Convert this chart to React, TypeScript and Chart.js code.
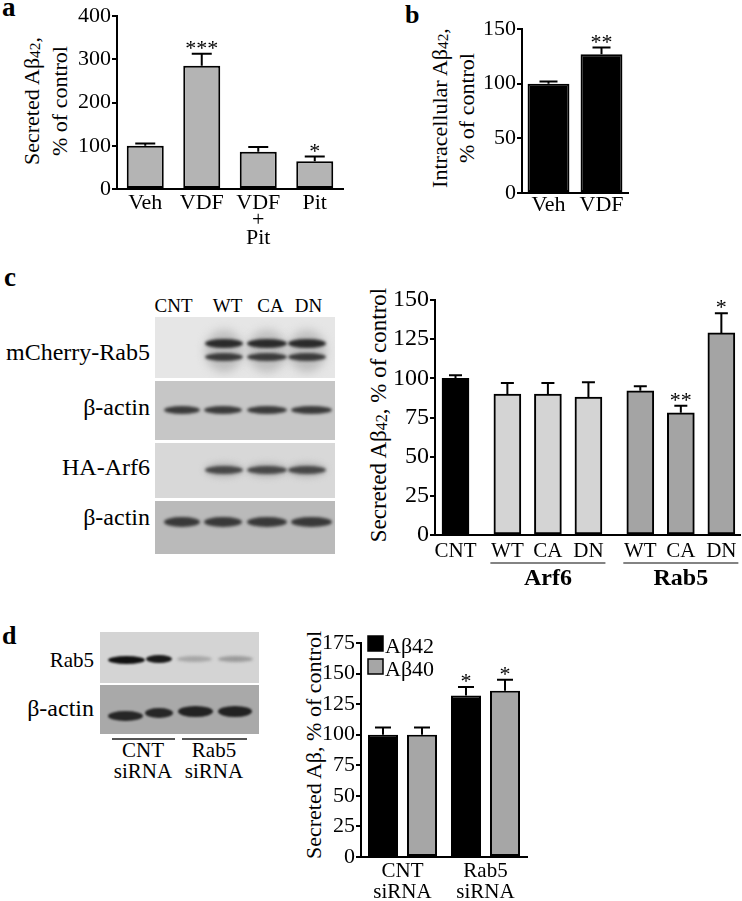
import React, { useEffect, useRef } from "react";
import { Chart, registerables } from "chart.js";
Chart.register(...registerables);

const FONT = "'Liberation Serif', 'Times New Roman', Times, serif";

// ---------- Panel a ----------
const A_LABELS: (string | string[])[] = ["Veh", "VDF", ["VDF", "+", "Pit"], "Pit"];
const A_VALUES = [100, 285, 86, 64];
const A_SEM = [5, 28, 11, 11];
const A_STARS = ["", "***", "", "*"];

// ---------- Panel b ----------
const B_LABELS = ["Veh", "VDF"];
const B_VALUES = [100, 127];
const B_SEM = [2, 6];
const B_STARS = ["", "**"];

// ---------- Panel c ----------
const C_LABELS = ["CNT", "WT", "CA", "DN", "WT", "CA", "DN"];
const C_GROUPS = ["", "Arf6", "Arf6", "Arf6", "Rab5", "Rab5", "Rab5"];
const C_VALUES = [100, 90, 90, 88, 92, 78, 129];
const C_SEM = [2, 7, 7, 9.5, 3, 4.5, 12.5];
const C_STARS = ["", "", "", "", "", "**", "*"];

// ---------- Panel d ----------
const D_LABELS = [["CNT", "siRNA"], ["Rab5", "siRNA"]];
const D_SERIES = ["Aβ42", "Aβ40"];
const D_AB42 = [100, 132];
const D_AB42_SEM = [6, 7];
const D_AB40 = [100, 136];
const D_AB40_SEM = [6, 9];
const D_STARS_42 = ["", "*"];
const D_STARS_40 = ["", "*"];

// layout helpers for panel c (group gaps)
const C_GAP = 0.28;
const C_GROUP_ORDER = Array.from(new Set(C_GROUPS));
const C_POS = C_LABELS.map((_, i) => i + C_GAP * C_GROUP_ORDER.indexOf(C_GROUPS[i]));

const errStarsPlugin = {
  id: "errStars",
  afterDatasetsDraw(chart: any, _args: any, opts: any) {
    const ctx = chart.ctx;
    const yScale = chart.scales.y;
    chart.data.datasets.forEach((ds: any, di: number) => {
      const meta = chart.getDatasetMeta(di);
      const sem: number[] = ds.sem || [];
      const stars: string[] = ds.stars || [];
      meta.data.forEach((el: any, i: number) => {
        const raw = ds.data[i];
        const v = typeof raw === "number" ? raw : raw.y;
        const base = yScale.getPixelForValue(v);
        const top = yScale.getPixelForValue(v + (sem[i] || 0));
        const x = el.x;
        const cap = opts.cap || 14;
        ctx.save();
        ctx.strokeStyle = "#000";
        ctx.lineWidth = 2;
        ctx.beginPath();
        ctx.moveTo(x, base);
        ctx.lineTo(x, top);
        ctx.moveTo(x - cap / 2, top);
        ctx.lineTo(x + cap / 2, top);
        ctx.stroke();
        if (stars[i]) {
          ctx.fillStyle = "#000";
          ctx.font = `${opts.starSize || 22}px ${FONT}`;
          ctx.textAlign = "center";
          ctx.textBaseline = "alphabetic";
          ctx.fillText(stars[i], x, top + (opts.starOffset || 0));
        }
        ctx.restore();
      });
    });
  },
};

const groupPlugin = {
  id: "groupLabels",
  afterDraw(chart: any, _args: any, opts: any) {
    const groups: string[] = opts.groups || [];
    const { ctx, chartArea } = chart;
    const meta = chart.getDatasetMeta(0);
    const names = Array.from(new Set(groups)).filter((g) => g);
    names.forEach((name) => {
      const idx = groups.map((g, i) => (g === name ? i : -1)).filter((i) => i >= 0);
      const x1 = meta.data[idx[0]].x - opts.ext;
      const x2 = meta.data[idx[idx.length - 1]].x + opts.ext;
      const ly = chartArea.bottom + opts.lineDy;
      ctx.save();
      ctx.strokeStyle = "#5a5a5a";
      ctx.lineWidth = 1.5;
      ctx.beginPath();
      ctx.moveTo(x1, ly);
      ctx.lineTo(x2, ly);
      ctx.stroke();
      ctx.fillStyle = "#000";
      ctx.font = `bold ${opts.size}px ${FONT}`;
      ctx.textAlign = "center";
      ctx.textBaseline = "alphabetic";
      ctx.fillText(name, (x1 + x2) / 2, chartArea.bottom + opts.textDy);
      ctx.restore();
    });
  },
};

const boxLegendPlugin = {
  id: "boxLegend",
  afterDraw(chart: any, _args: any, opts: any) {
    const { ctx, chartArea } = chart;
    chart.data.datasets.forEach((ds: any, i: number) => {
      const x = chartArea.left + opts.dx;
      const y = chartArea.top + opts.dy + i * opts.row;
      ctx.save();
      ctx.fillStyle = ds.backgroundColor;
      ctx.fillRect(x, y, opts.box, opts.box);
      ctx.strokeStyle = "#000";
      ctx.lineWidth = 1.5;
      ctx.strokeRect(x, y, opts.box, opts.box);
      ctx.fillStyle = "#000";
      ctx.font = `${opts.size}px ${FONT}`;
      ctx.textAlign = "left";
      ctx.textBaseline = "alphabetic";
      ctx.fillText(ds.label, x + opts.box + 2, y + opts.box + 2);
      ctx.restore();
    });
  },
};

function yAxis(max: number, step: number, width: number, size: number) {
  return {
    min: 0,
    max,
    ticks: { stepSize: step, color: "#000", font: { family: FONT, size }, padding: 1 },
    grid: { display: true, drawOnChartArea: false, drawTicks: true, tickLength: 5, color: "#000", lineWidth: 2 },
    border: { display: true, color: "#000", width: 2 },
    afterFit: (s: any) => {
      s.width = width;
    },
  };
}

function xAxisBase(height: number, size: number, lineHeight: number, padding: number) {
  return {
    ticks: { color: "#000", font: { family: FONT, size, lineHeight }, padding, maxRotation: 0, minRotation: 0, autoSkip: false },
    grid: { display: true, drawOnChartArea: false, drawTicks: false, color: "#000" },
    border: { display: true, color: "#000", width: 2 },
    afterFit: (s: any) => {
      s.height = height;
    },
  };
}

const baseOptions = {
  responsive: false,
  maintainAspectRatio: false,
  animation: false as const,
  events: [] as any[],
};

function makeA(): any {
  return {
    type: "bar",
    data: {
      labels: A_LABELS,
      datasets: [
        {
          data: A_VALUES,
          sem: A_SEM,
          stars: A_STARS,
          backgroundColor: "#b4b4b4",
          borderColor: "#000",
          borderWidth: 2,
          borderSkipped: false,
          categoryPercentage: 1,
          barPercentage: 0.655,
        },
      ],
    },
    options: {
      ...baseOptions,
      layout: { padding: { left: 0, right: 7, top: 16, bottom: 0 } },
      plugins: { legend: { display: false }, tooltip: { enabled: false }, errStars: { cap: 20, starSize: 22, starOffset: 1 } },
      scales: { x: xAxisBase(71, 22, 0.8, 5), y: yAxis(400, 100, 49, 22) },
    },
    plugins: [errStarsPlugin],
  };
}

function makeB(): any {
  return {
    type: "bar",
    data: {
      labels: B_LABELS,
      datasets: [
        {
          data: B_VALUES,
          sem: B_SEM,
          stars: B_STARS,
          backgroundColor: "#000",
          borderColor: "#000",
          borderWidth: 2,
          borderSkipped: false,
          categoryPercentage: 1,
          barPercentage: 0.79,
        },
      ],
    },
    options: {
      ...baseOptions,
      layout: { padding: { left: 0, right: 10, top: 29, bottom: 0 } },
      plugins: { legend: { display: false }, tooltip: { enabled: false }, errStars: { cap: 18, starSize: 22, starOffset: 1 } },
      scales: { x: xAxisBase(47, 22, 1, 1), y: yAxis(150, 50, 44, 22) },
    },
    plugins: [errStarsPlugin],
  };
}

function makeC(): any {
  const colors = C_GROUPS.map((g) => (g === "" ? "#000" : g === "Arf6" ? "#d4d4d4" : "#a4a4a4"));
  return {
    type: "bar",
    data: {
      datasets: [
        {
          data: C_VALUES.map((v, i) => ({ x: C_POS[i], y: v })),
          sem: C_SEM,
          stars: C_STARS,
          backgroundColor: colors,
          borderColor: "#000",
          borderWidth: 2,
          borderSkipped: false,
          barThickness: 27,
        },
      ],
    },
    options: {
      ...baseOptions,
      layout: { padding: { left: 0, right: 2, top: 20, bottom: 0 } },
      plugins: {
        legend: { display: false },
        tooltip: { enabled: false },
        errStars: { cap: 13, starSize: 22, starOffset: 1 },
        groupLabels: { groups: C_GROUPS, ext: 17, lineDy: 28, textDy: 50, size: 24 },
      },
      scales: {
        x: {
          ...xAxisBase(55, 21, 1.2, 4),
          type: "linear",
          min: -0.506,
          max: 7.02,
          offset: false,
          afterBuildTicks: (scale: any) => {
            scale.ticks = C_POS.map((v) => ({ value: v }));
          },
          ticks: {
            color: "#000",
            font: { family: FONT, size: 21, lineHeight: 1.2 },
            padding: 4,
            maxRotation: 0,
            minRotation: 0,
            autoSkip: false,
            callback: (_v: any, i: number) => C_LABELS[i],
          },
        },
        y: yAxis(150, 25, 47, 24),
      },
    },
    plugins: [errStarsPlugin, groupPlugin],
  };
}

function makeD(): any {
  return {
    type: "bar",
    data: {
      labels: D_LABELS,
      datasets: [
        {
          label: D_SERIES[0],
          data: D_AB42,
          sem: D_AB42_SEM,
          stars: D_STARS_42,
          backgroundColor: "#000",
          borderColor: "#000",
          borderWidth: 2,
          borderSkipped: false,
          categoryPercentage: 0.94,
          barPercentage: 0.77,
        },
        {
          label: D_SERIES[1],
          data: D_AB40,
          sem: D_AB40_SEM,
          stars: D_STARS_40,
          backgroundColor: "#a6a6a6",
          borderColor: "#000",
          borderWidth: 2,
          borderSkipped: false,
          categoryPercentage: 0.94,
          barPercentage: 0.77,
        },
      ],
    },
    options: {
      ...baseOptions,
      layout: { padding: { left: 0, right: 19, top: 43, bottom: 0 } },
      plugins: {
        legend: { display: false },
        tooltip: { enabled: false },
        errStars: { cap: 16, starSize: 22, starOffset: 1 },
        boxLegend: { dx: 7, dy: -7, box: 15, row: 23, size: 22 },
      },
      scales: { x: xAxisBase(44, 21, 1.0, 4), y: yAxis(175, 25, 45, 22) },
    },
    plugins: [errStarsPlugin, boxLegendPlugin],
  };
}

function ChartCanvas({ left, top, width, height, make }: { left: number; top: number; width: number; height: number; make: () => any }) {
  const ref = useRef<HTMLCanvasElement>(null);
  useEffect(() => {
    const chart = new Chart(ref.current as HTMLCanvasElement, make());
    return () => chart.destroy();
  }, []);
  return <canvas ref={ref} width={width} height={height} style={{ position: "absolute", left, top, width, height }} />;
}

function Txt({ x, y, size, align = "left", bold = false, children }: any) {
  const shift = align === "center" ? "-50%" : align === "right" ? "-100%" : "0";
  return (
    <div
      style={{
        position: "absolute",
        left: x,
        top: y - 0.8375 * size,
        fontSize: size,
        lineHeight: `${size}px`,
        fontWeight: bold ? "bold" : "normal",
        whiteSpace: "nowrap",
        transform: `translateX(${shift})`,
      }}
    >
      {children}
    </div>
  );
}

function VTitle({ cx, cy, size, lh, lines }: any) {
  return (
    <div
      style={{
        position: "absolute",
        left: cx,
        top: cy,
        transform: "translate(-50%,-50%) rotate(-90deg)",
        fontSize: size,
        lineHeight: `${lh}px`,
        whiteSpace: "nowrap",
        textAlign: "center",
      }}
    >
      {lines.map((l: any, i: number) => (
        <div key={i}>{l}</div>
      ))}
    </div>
  );
}

const Sub = ({ children }: any) => <span style={{ fontSize: "0.7em", position: "relative", top: "0.08em" }}>{children}</span>;

type Band = { x1: number; x2: number; y: number; h: number; c: string; blur?: number };
type BlotPanel = { left: number; right: number; top: number; bottom: number; bg: string; bands: Band[] };

const pairs = (lanes: number[][], y: number, h: number, c: string, blur = 1.5): Band[] => lanes.map(([x1, x2]) => ({ x1, x2, y, h, c, blur }));
const LANES_C3 = [[205, 243], [247, 287], [288, 326]];
const LANES_C4 = [[164, 200], [204, 242], [247, 287], [291, 332]];

const BLOTS: BlotPanel[] = [
  {
    left: 155, right: 335, top: 317, bottom: 378, bg: "#e6e6e6",
    bands: [
      ...pairs(LANES_C3, 351, 42, "#bdbdbd", 5),
      ...pairs(LANES_C3, 343, 9, "#2a2a2a", 1.5),
      ...pairs(LANES_C3, 357, 8, "#3a3a3a", 1.5),
    ],
  },
  { left: 155, right: 335, top: 381, bottom: 440, bg: "#c6c6c6", bands: pairs(LANES_C4, 410, 8, "#3a3a3a", 1.5) },
  {
    left: 155, right: 335, top: 443, bottom: 498, bg: "#d8d8d8",
    bands: [...pairs(LANES_C3, 470, 14, "#b0b0b0", 3), ...pairs(LANES_C3, 470, 8, "#474747", 1.5)],
  },
  { left: 155, right: 335, top: 501, bottom: 554, bg: "#bababa", bands: pairs(LANES_C4, 522, 10, "#383838", 1.5) },
  {
    left: 100, right: 259, top: 632, bottom: 683, bg: "#d4d4d4",
    bands: [
      { x1: 108, x2: 145, y: 660, h: 8, c: "#111", blur: 1.2 },
      { x1: 146, x2: 172, y: 659, h: 8, c: "#1a1a1a", blur: 1.2 },
      { x1: 177, x2: 212, y: 659, h: 6, c: "#a6a6a6", blur: 1.5 },
      { x1: 218, x2: 253, y: 659, h: 6, c: "#9a9a9a", blur: 1.5 },
    ],
  },
  {
    left: 100, right: 259, top: 685, bottom: 734, bg: "#a9a9a9",
    bands: [
      { x1: 108, x2: 143, y: 716, h: 10, c: "#262626", blur: 1.3 },
      { x1: 145, x2: 173, y: 713, h: 10, c: "#262626", blur: 1.3 },
      { x1: 178, x2: 213, y: 711, h: 11, c: "#222", blur: 1.3 },
      { x1: 218, x2: 252, y: 711, h: 11, c: "#222", blur: 1.3 },
    ],
  },
];

function Blot({ p }: { p: BlotPanel }) {
  return (
    <div style={{ position: "absolute", left: p.left, top: p.top, width: p.right - p.left, height: p.bottom - p.top, background: p.bg, overflow: "hidden" }}>
      {p.bands.map((b, i) => (
        <div
          key={i}
          style={{
            position: "absolute",
            left: b.x1 - p.left,
            top: b.y - b.h / 2 - p.top,
            width: b.x2 - b.x1,
            height: b.h,
            borderRadius: "50%",
            background: b.c,
            filter: `blur(${b.blur ?? 1.5}px)`,
          }}
        />
      ))}
    </div>
  );
}

const Rule = ({ x1, x2, y }: any) => <div style={{ position: "absolute", left: x1, top: y - 1, width: x2 - x1, height: 1.5, background: "#555" }} />;

export default function App() {
  return (
    <div style={{ position: "absolute", left: 0, top: 0, width: 742, height: 901, background: "#fff", fontFamily: FONT, color: "#000", overflow: "hidden" }}>
      {/* Panel letters */}
      <Txt x={2} y={17} size={27} bold>a</Txt>
      <Txt x={405} y={24} size={26} bold>b</Txt>
      <Txt x={4} y={287} size={27} bold>c</Txt>
      <Txt x={2} y={645} size={26} bold>d</Txt>

      {/* Panel a */}
      <VTitle cx={46} cy={101} size={22} lh={26} lines={[<>Secreted Aβ<Sub>42</Sub>,</>, "% of control"]} />
      <ChartCanvas left={68} top={0} width={282} height={260} make={makeA} />

      {/* Panel b */}
      <VTitle cx={453} cy={108} size={22} lh={25} lines={[<>Intracellular Aβ<Sub>42</Sub>,</>, "% of control"]} />
      <ChartCanvas left={478} top={0} width={160} height={240} make={makeB} />

      {/* Panel c blot */}
      <Txt x={173.5} y={312} size={19} align="center">CNT</Txt>
      <Txt x={227.5} y={312} size={19} align="center">WT</Txt>
      <Txt x={270.5} y={312} size={19} align="center">CA</Txt>
      <Txt x={308.5} y={312} size={19} align="center">DN</Txt>
      <Txt x={150} y={360} size={24} align="right">mCherry-Rab5</Txt>
      <Txt x={150} y={415} size={24} align="right">β-actin</Txt>
      <Txt x={150} y={475} size={24} align="right">HA-Arf6</Txt>
      <Txt x={150} y={525} size={24} align="right">β-actin</Txt>
      {BLOTS.slice(0, 4).map((p, i) => (
        <Blot key={i} p={p} />
      ))}

      {/* Panel c chart */}
      <VTitle cx={380} cy={415} size={23} lh={26} lines={[<>Secreted Aβ<Sub>42</Sub>, % of control</>]} />
      <ChartCanvas left={388} top={280} width={354} height={310} make={makeC} />

      {/* Panel d blot */}
      <Txt x={94} y={668} size={21} align="right">Rab5</Txt>
      <Txt x={94} y={716} size={24} align="right">β-actin</Txt>
      {BLOTS.slice(4).map((p, i) => (
        <Blot key={i} p={p} />
      ))}
      <Rule x1={112} x2={175} y={739} />
      <Rule x1={182} x2={247} y={739} />
      <Txt x={143} y={758} size={21} align="center">CNT</Txt>
      <Txt x={143} y={779} size={21} align="center">siRNA</Txt>
      <Txt x={214} y={758} size={21} align="center">Rab5</Txt>
      <Txt x={214} y={779} size={21} align="center">siRNA</Txt>

      {/* Panel d chart */}
      <VTitle cx={314} cy={745} size={22} lh={26} lines={["Secreted Aβ, % of control"]} />
      <ChartCanvas left={316} top={600} width={230} height={301} make={makeD} />
    </div>
  );
}
